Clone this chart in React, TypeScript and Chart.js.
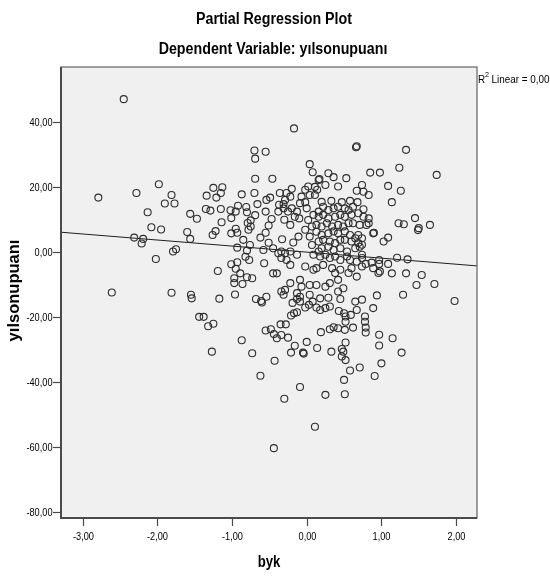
import React, { useEffect, useRef } from "react";
import { Chart, registerables } from "chart.js";
Chart.register(...registerables);

const TITLE = "Partial Regression Plot";
const SUBTITLE = "Dependent Variable: yılsonupuanı";
const X_TITLE = "byk";
const Y_TITLE = "yılsonupuanı";
const R2_LABEL = "Linear = 0,00";

const X_TICKS = [-3, -2, -1, 0, 1, 2];
const Y_TICKS = [-80, -60, -40, -20, 0, 20, 40];
const X_MIN = -3.29;
const X_MAX = 2.28;
const Y_MIN = -81.8;
const Y_MAX = 57.0;

const FIT_INTERCEPT = 0.03;
const FIT_SLOPE = -1.86;

// byk (x) and yılsonupuanı (y) residuals
const BYK = [
  -2.45, -2.79, -2.28, -1.98, -2.13, -2.08, -1.95, -2.31, -2.19, -2.21, -2.02, -1.90, -1.81, -1.77, -1.79, -1.75,
  -1.56, -1.47, -1.60, -1.56, -1.34, -1.25, -1.21, -1.13, -1.15, -1.35, -1.29, -1.15, -1.26, -1.22, -1.14, -1.02,
  -1.01, -0.87, -0.92, -0.95, -0.81, -0.80, -0.79, -0.75, -0.78, -0.75, -1.01, -0.93, -0.95, -0.85, -0.93, -0.80,
  -0.76, -0.82, -0.77, -1.19, -1.01, -0.93, -0.95, -0.89, -0.97, -0.80, -0.73, -0.97, -0.86, -0.70, -0.69, -0.55,
  -0.69, -0.70, -0.66, -0.69, -0.55, -0.54, -0.49, -0.46, -0.51, -0.47, -0.55, -0.62, -0.51, -0.58, -0.57, -0.45,
  -0.45,
  -2.61, -1.81, -1.55, -1.54, -1.17, -0.96, -1.44, -1.38, -1.32, -1.25, -1.27, -0.87, -0.73, -0.68, -0.60, -0.61,
  -0.62, -0.55, -0.48, -0.44, -0.43, -0.44,
  -0.30, -0.09, -0.21, -0.05, -0.04, -0.16, 0.00, 0.14, -0.40, -0.34, -0.25, -0.35, -0.28, -0.21, -0.17, -0.13,
  -0.19, -0.13, -0.09, -0.02, 0.03, 0.08, 0.13, 0.18, -0.31,
  0.25, 0.51, 0.50, 0.58, 0.71, 0.91, 1.00, 1.27, 1.15, 0.97, 0.97, 0.52, 0.47, 0.49, 0.47, 0.52,
  0.33, 0.19, 0.31, 0.36, 0.42, 0.51, 0.62, 0.52, 0.52, 0.78, 0.78, 0.79, 0.79, 0.89, 0.67, 0.59,
  0.50, 0.43, 0.25, 0.31, 0.18, 0.65, 0.74, 0.45, 0.29, 0.94, 1.29,
  1.98, 1.71, 1.47, 0.11,
  -0.17, 0.66, 0.67, 1.33, 1.74, 1.24, 0.85, 0.98, 1.09, 1.26, 1.14, 1.65, 1.45, 1.50, 1.49, 1.30,
  1.23, 1.09, 1.03, 0.90, 0.83, 0.76, 0.74, 0.76, 0.83, 0.67, 0.53, 0.42, 0.36, 0.29, 0.17, 0.04,
  0.08, 1.35, 1.21, 1.09, 0.97, 0.97, 0.87, 0.79, 1.33, 1.54, 1.14,
  -0.36, -0.27, -0.20, -0.22, -0.29, -0.31, -0.37, 0.02, -0.02, -0.07, -0.09, -0.02, 0.04, 0.11, 0.14, 0.16,
  0.25, 0.11, 0.20, 0.33, 0.47, 0.58, 0.68,
  -0.38, -0.31, -0.25, -0.20, -0.13, 0.00, 0.09, 0.16, -0.22, -0.11, -0.02, 0.04, 0.07, 0.13, 0.16, -0.38,
  -0.34, -0.29, -0.22, -0.13, 0.07, 0.09, 0.16, -0.34, -0.27, -0.22, -0.02, 0.09, -0.40, -0.22, -0.09, -0.07,
  -0.34, -0.29, -0.13, 0.04, 0.13, -0.09, 0.04, -0.54, -0.10, 0.02, -0.16, -0.30, -0.33, -0.18,
  0.22, 0.29, 0.36, 0.42, 0.51, 0.56, 0.62, 0.16, 0.22, 0.29, 0.38, 0.45, 0.51, 0.60, 0.69, 0.76,
  0.83, 0.13, 0.20, 0.27, 0.34, 0.42, 0.49, 0.56, 0.62, 0.71, 0.80, 0.20, 0.29, 0.36, 0.42, 0.51,
  0.58, 0.65, 0.69, 0.74, 0.89, 0.22, 0.31, 0.38, 0.45, 0.51, 0.60, 0.69, 0.74, 0.20, 0.29, 0.36,
  0.45, 0.54, 0.65, 0.71, 0.18, 0.25, 0.31, 0.38, 0.45, 0.54, 0.58, 0.67, 0.74, 0.74, 0.13, 0.22,
  0.34, 0.38, 0.45, 0.56, 0.60, 0.67, 0.74, 0.25, 0.31, 0.42, 0.49, 0.42, 0.98, 0.89, 0.96,
];
const YILSONUPUANI = [
  47.1, 16.8, 18.2, 20.9, 12.3, 7.7, 7.0, 4.5, 4.1, 2.7, -2.1, 15.0, 17.6, 15.0, 0.2, 0.9,
  11.8, 10.3, 6.2, 4.1, 17.4, 19.8, 16.8, 20.0, 18.2, 13.3, 12.8, 13.3, 5.3, 6.5, 9.2, 12.9,
  10.5, 17.8, 14.3, 12.5, 13.9, 12.3, 9.0, 9.8, 6.9, 7.9, 5.8, 6.0, 7.2, 3.8, 1.4, 0.5,
  2.2, -1.4, -2.4, -5.8, -3.7, -3.1, -5.1, -6.5, -8.0, -7.7, -8.0, -9.5, -9.8, 31.3, 28.8, 30.9,
  22.6, 18.2, 14.8, 11.4, 12.5, 16.1, 16.8, 22.6, 8.2, 10.2, 6.0, 4.5, 2.9, 0.7, -3.4, -6.5,
  1.2,
  -12.4, -12.5, -13.1, -14.2, -14.3, -13.0, -19.9, -19.9, -22.8, -22.0, -30.6, -27.1, -31.1, -14.4, -15.5, -15.0,
  -38.0, -24.1, -23.7, -25.2, -33.4, -60.3,
  -45.1, -41.5, -30.9, -30.9, -31.2, -28.8, -27.6, -29.5, -26.5, -25.5, -26.3, -22.2, -22.2, -19.5, -18.8, -18.5,
  -15.6, -14.4, -15.2, -17.0, -16.2, -15.2, -17.0, -14.2, -13.1,
  -43.9, -43.7, -39.3, -36.4, -35.5, -38.1, -34.2, -30.9, -26.5, -25.4, -28.7, -33.2, -32.1, -30.6, -29.8, -27.8,
  -30.6, -24.6, -23.7, -23.1, -23.4, -23.9, -23.2, -21.4, -19.8, -19.8, -21.4, -23.2, -24.7, -17.2, -17.8, -19.3,
  -18.8, -18.1, -17.2, -16.7, -17.8, -15.2, -14.6, -14.4, -14.0, -13.3, -13.1,
  -15.0, -9.8, -10.1, -53.7,
  38.1, 32.3, 32.6, 31.5, 23.8, 26.0, 24.5, 24.5, 20.4, 18.9, 15.4, 8.4, 10.5, 7.4, 6.8, 8.6,
  8.9, 4.5, 3.3, 6.0, 8.9, 13.2, 20.7, 18.6, 17.6, 18.9, 22.8, 20.2, 23.1, 24.3, 22.5, 27.1,
  24.6, -2.2, -1.7, -3.6, -2.4, -3.6, -3.2, -3.6, -6.5, -7.0, -6.5,
  18.2, 18.2, 19.5, 17.1, 16.1, 14.8, 14.6, 20.2, 19.2, 17.1, 15.1, 15.4, 17.6, 17.6, 19.2, 22.2,
  20.7, 20.1, 15.5, 15.8, 15.4, 15.8, 15.4,
  12.5, 13.5, 12.5, 13.5, 12.5, 13.5, 11.5, 12.5, 8.4, 4.8, 6.9, 4.8, 7.9, 6.3, 3.3, -0.3,
  0.2, -0.3, 0.2, -0.8, 2.2, -0.8, 0.2, -1.8, -2.4, -3.9, -4.4, -5.4, -6.5, -9.5, -8.5, -10.6,
  -12.1, -11.6, -12.6, -10.1, -10.1, -13.7, -13.1, -13.7, 10.4, 9.9, 10.9, 10.0, 4.0, 3.0,
  14.0, 13.0, 13.5, 14.0, 13.5, 13.0, 14.0, 10.9, 11.5, 10.4, 10.9, 11.5, 10.9, 11.5, 12.0, 10.9,
  10.4, 8.4, 7.9, 8.9, 7.9, 8.4, 7.9, 8.9, 8.9, 8.4, 8.4, 5.3, 5.8, 6.4, 5.8, 6.4,
  5.3, 4.3, 5.3, 4.3, 5.8, 3.8, 3.3, 2.8, 3.8, 3.8, 3.3, 2.8, 2.3, 1.2, 1.7, 0.7,
  1.2, 0.2, 1.2, 1.7, -1.3, -0.8, -1.8, -1.3, -2.4, -1.3, -2.4, -2.9, -1.8, -0.8, -4.9, -3.9,
  -4.9, -6.4, -5.4, -6.4, -4.9, -7.5, -4.4, -10.6, -9.5, -8.5, -11.1, -12.1, -5.9, -4.9, -6.4,
];

const fmt = (v: number) => v.toFixed(2).replace(".", ",");

function textScaled(
  ctx: CanvasRenderingContext2D,
  text: string,
  x: number,
  y: number,
  font: string,
  align: CanvasTextAlign,
  baseline: CanvasTextBaseline,
  sx: number,
  color = "#000"
) {
  ctx.save();
  ctx.translate(x, y);
  ctx.scale(sx, 1);
  ctx.font = font;
  ctx.fillStyle = color;
  ctx.textAlign = align;
  ctx.textBaseline = baseline;
  ctx.fillText(text, 0, 0);
  ctx.restore();
}

const FONT = "'Liberation Sans', Arial, sans-serif";

const spssPlugin = {
  id: "spssFrame",
  beforeDatasetsDraw(chart: any) {
    const { ctx, chartArea } = chart;
    ctx.save();
    ctx.fillStyle = "#F0F0F0";
    ctx.fillRect(chartArea.left, chartArea.top, chartArea.right - chartArea.left, chartArea.bottom - chartArea.top);
    ctx.restore();
  },
  afterDraw(chart: any) {
    const { ctx, chartArea } = chart;
    const xs = chart.scales.x;
    const ys = chart.scales.y;
    const { left, right, top, bottom } = chartArea;
    ctx.save();
    // frame
    ctx.strokeStyle = "#6e6e6e";
    ctx.lineWidth = 1.3;
    ctx.strokeRect(left, top, right - left, bottom - top);
    ctx.strokeStyle = "#4a4a4a";
    ctx.lineWidth = 2;
    ctx.beginPath();
    ctx.moveTo(left, top);
    ctx.lineTo(left, bottom);
    ctx.lineTo(right, bottom);
    ctx.stroke();
    // ticks
    ctx.lineWidth = 1.2;
    ctx.strokeStyle = "#4a4a4a";
    for (const v of Y_TICKS) {
      const py = Math.round(ys.getPixelForValue(v)) + 0.5;
      ctx.beginPath();
      ctx.moveTo(left - 8, py);
      ctx.lineTo(left, py);
      ctx.stroke();
      textScaled(ctx, fmt(v), left - 8.5, py, `11.5px ${FONT}`, "right", "middle", 0.8, "#000");
    }
    for (const v of X_TICKS) {
      const px = Math.round(xs.getPixelForValue(v)) + 0.5;
      ctx.beginPath();
      ctx.moveTo(px, bottom);
      ctx.lineTo(px, bottom + 8);
      ctx.stroke();
      textScaled(ctx, fmt(v), px, bottom + 19, `11.5px ${FONT}`, "center", "middle", 0.8, "#000");
    }
    // titles
    textScaled(ctx, TITLE, 274, 24, `bold 16px ${FONT}`, "center", "alphabetic", 0.89);
    textScaled(ctx, SUBTITLE, 273, 54, `bold 16px ${FONT}`, "center", "alphabetic", 0.89);
    textScaled(ctx, X_TITLE, (left + right) / 2, bottom + 45, `bold 16px ${FONT}`, "center", "middle", 0.82);
    // y title rotated
    ctx.save();
    ctx.translate(14, (top + bottom) / 2 - 2);
    ctx.rotate(-Math.PI / 2);
    ctx.font = `bold 16.5px ${FONT}`;
    ctx.fillStyle = "#000";
    ctx.textAlign = "center";
    ctx.textBaseline = "middle";
    ctx.fillText(Y_TITLE, 0, 0);
    ctx.restore();
    // R2 label
    const rx = right + 1;
    textScaled(ctx, "R", rx, 82.5, `11px ${FONT}`, "left", "alphabetic", 0.9);
    textScaled(ctx, "2", rx + 7, 77, `8px ${FONT}`, "left", "alphabetic", 0.9);
    textScaled(ctx, R2_LABEL, rx + 13.5, 82.5, `11px ${FONT}`, "left", "alphabetic", 0.9);
    ctx.restore();
  },
};

export default function App() {
  const ref = useRef<HTMLCanvasElement | null>(null);
  useEffect(() => {
    if (!ref.current) return;
    const points = BYK.map((x, i) => ({ x, y: YILSONUPUANI[i] }));
    const fit = [X_MIN, X_MAX].map((x) => ({ x, y: FIT_INTERCEPT + FIT_SLOPE * x }));
    const chart = new Chart(ref.current, {
      type: "scatter",
      data: {
        datasets: [
          {
            label: "points",
            data: points,
            pointRadius: 3.5,
            pointBorderWidth: 1.1,
            pointBorderColor: "#2e2e2e",
            pointBackgroundColor: "rgba(0,0,0,0)",
            pointHoverRadius: 3.5,
          },
          {
            label: "fit",
            data: fit,
            showLine: true,
            borderColor: "#1e1e1e",
            borderWidth: 1,
            pointRadius: 0,
          },
        ],
      },
      options: {
        animation: false,
        responsive: false,
        devicePixelRatio: 1,
        events: [],
        layout: { padding: { left: 0, top: 67, right: 73, bottom: 0 } },
        plugins: { legend: { display: false }, tooltip: { enabled: false }, title: { display: false } },
        scales: {
          x: {
            type: "linear",
            min: X_MIN,
            max: X_MAX,
            grid: { display: false },
            border: { display: false },
            ticks: { display: false },
            afterBuildTicks: (s: any) => {
              s.ticks = X_TICKS.map((value) => ({ value }));
            },
            afterFit: (s: any) => {
              s.height = 60;
            },
          },
          y: {
            type: "linear",
            min: Y_MIN,
            max: Y_MAX,
            grid: { display: false },
            border: { display: false },
            ticks: { display: false },
            afterBuildTicks: (s: any) => {
              s.ticks = Y_TICKS.map((value) => ({ value }));
            },
            afterFit: (s: any) => {
              s.width = 61;
            },
          },
        },
      },
      plugins: [spssPlugin],
    });
    return () => chart.destroy();
  }, []);
  return (
    <div style={{ position: "absolute", left: 0, top: 0, width: 550, height: 578, background: "#fff" }}>
      <canvas ref={ref} width={550} height={578} style={{ display: "block" }} />
    </div>
  );
}
